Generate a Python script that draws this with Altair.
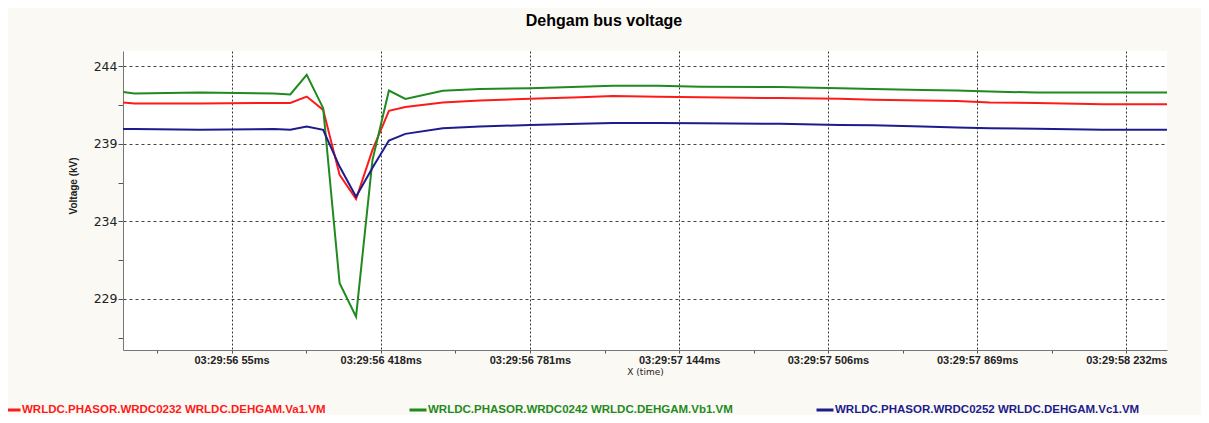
import altair as alt
import pandas as pd

# time in ms relative to 03:29:56.000
time_ms = [-209, -181, -22, 158, 198, 238, 278, 318, 358, 398, 438, 478, 569, 659, 781,
           903, 983, 1093, 1196, 1389, 1535, 1616, 1737, 1820, 1900, 2014, 2175, 2331]
va = [241.67, 241.61, 241.61, 241.65, 241.64, 242.06, 241.20, 237.00, 235.45, 238.62,
      241.14, 241.38, 241.67, 241.80, 241.91, 242.02, 242.09, 242.04, 242.01, 241.96,
      241.91, 241.85, 241.80, 241.78, 241.67, 241.64, 241.57, 241.57]
vb = [242.35, 242.26, 242.32, 242.26, 242.20, 243.46, 241.31, 230.01, 227.85, 237.97,
      242.45, 241.91, 242.43, 242.54, 242.60, 242.69, 242.75, 242.75, 242.69, 242.67,
      242.60, 242.54, 242.49, 242.45, 242.38, 242.32, 242.32, 242.32]
vc = [239.96, 239.96, 239.91, 239.96, 239.91, 240.12, 239.91, 237.54, 235.60, 237.46,
      239.22, 239.65, 240.02, 240.12, 240.23, 240.30, 240.36, 240.36, 240.33, 240.30,
      240.23, 240.20, 240.12, 240.06, 240.01, 239.98, 239.91, 239.91]

series_names = ["WRLDC.PHASOR.WRDC0232 WRLDC.DEHGAM.Va1.VM",
                "WRLDC.PHASOR.WRDC0242 WRLDC.DEHGAM.Vb1.VM",
                "WRLDC.PHASOR.WRDC0252 WRLDC.DEHGAM.Vc1.VM"]
series_colors = ["#ff1a1a", "#1f8a1f", "#1c1c8e"]

x_major = [55, 418, 781, 1144, 1506, 1869, 2232]
x_minor = [-126.5, 236.5, 599.5, 962.5, 1325, 1687.5, 2050.5]
x_labels = ["03:29:56 55ms", "03:29:56 418ms", "03:29:56 781ms", "03:29:57 144ms",
            "03:29:57 506ms", "03:29:57 869ms", "03:29:58 232ms"]
y_major = [229, 234, 239, 244]
y_minor = [226.5, 231.5, 236.5, 241.5]

rows = []
for name, vals in zip(series_names, [va, vb, vc]):
    for t, v in zip(time_ms, vals):
        rows.append({"t": t, "v": v, "series": name})
df = pd.DataFrame(rows)

x_is_major = f"indexof({x_major}, datum.value) >= 0"
x_label_expr = f"{x_is_major} ? {x_labels}[indexof({x_major}, datum.value)] : ''"
y_is_major = f"indexof({y_major}, datum.value) >= 0"
y_label_expr = f"{y_is_major} ? datum.value : ''"

color_expr = " : ".join(
    f"datum.label == '{n}' ? '{c}'" for n, c in zip(series_names[:-1], series_colors[:-1])
) + f" : '{series_colors[-1]}'"

chart = alt.Chart(df).mark_line(strokeWidth=2, clip=True).encode(
    x=alt.X("t:Q",
            scale=alt.Scale(domain=[-209, 2331], nice=False, zero=False),
            axis=alt.Axis(values=sorted(x_major + x_minor), labelExpr=x_label_expr,
                          title="X (time)", titleFont="DejaVu Sans", titleFontSize=9,
                          titleFontWeight="normal", titleColor="#222",
                          titleX=522, titleY=21, titleBaseline="middle",
                          labelFont="Liberation Sans", labelFontSize=11, labelFontWeight="bold",
                          labelColor="#222", labelPadding=1, labelOverlap=False, labelFlush=False,
                          tickSize=3, tickColor="#555", domainColor="#777",
                          grid=True, gridColor="#333", gridDash=[2, 2],
                          gridOpacity={"condition": {"test": x_is_major, "value": 1}, "value": 0})),
    y=alt.Y("v:Q",
            scale=alt.Scale(domain=[225.7, 245.0], nice=False, zero=False),
            axis=alt.Axis(values=sorted(y_major + y_minor), labelExpr=y_label_expr,
                          title="Voltage (kV)", titleFont="Liberation Sans", titleFontSize=10,
                          titleFontWeight="bold", titleColor="#222",
                          titleX=-50, titleY=134.5, titleAlign="center", titleBaseline="middle",
                          labelFont="DejaVu Sans", labelFontSize=12.5, labelColor="#222",
                          labelPadding=1, labelOverlap=False,
                          tickSize=5, tickColor="#555", domainColor="#777",
                          grid=True, gridColor="#444", gridDash=[3, 3],
                          gridOpacity={"condition": {"test": y_is_major, "value": 1}, "value": 0})),
    color=alt.Color("series:N",
                    scale=alt.Scale(domain=series_names, range=series_colors),
                    legend=alt.Legend(title=None, orient="none", legendX=-121, legendY=349,
                                      direction="horizontal", columns=3, columnPadding=77,
                                      symbolType="stroke", symbolSize=289, symbolStrokeWidth=3,
                                      labelOffset=0, labelFont="Liberation Sans",
                                      labelFontSize=11.5, labelFontWeight="bold",
                                      labelLimit=0, labelColor={"expr": color_expr},
                                      padding=0, rowPadding=0)),
).properties(
    width=1044, height=299,
    title=alt.TitleParams("Dehgam bus voltage", anchor="middle", frame="group",
                          offset=9.5, dx=-41, baseline="alphabetic",
                          font="Liberation Sans", fontSize=16, fontWeight="bold", color="#000"),
    autosize=alt.AutoSizeParams(type="none"),
    padding={"left": 115, "top": 43, "right": 34, "bottom": 65},
    background="#FBF9F4",
).configure_view(fill="white", strokeWidth=0)

chart.save("out.html", embed_options={"renderer": "svg", "actions": False})
